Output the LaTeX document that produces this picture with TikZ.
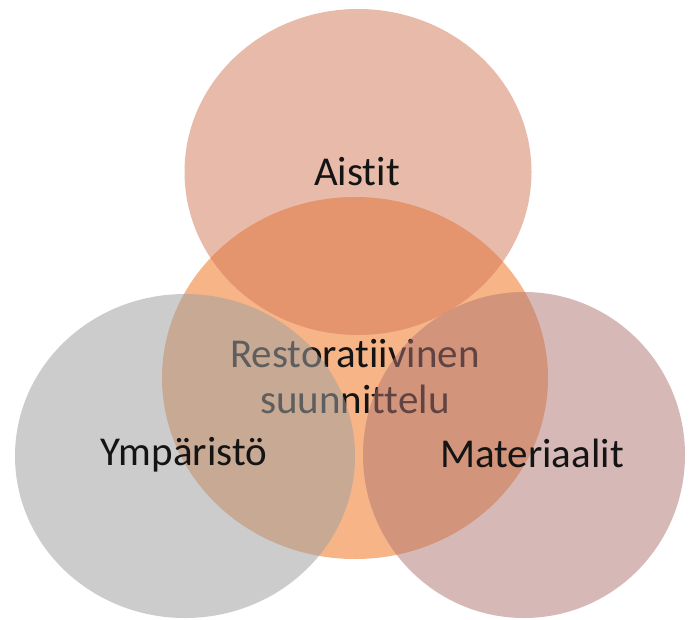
\documentclass[tikz,border=0pt]{standalone}
\usepackage{fontspec}
\setmainfont{Carlito}[Ligatures=NoCommon]
\usetikzlibrary{shapes.geometric}
\definecolor{corecol}{RGB}{246,180,135}
\definecolor{topcol}{RGB}{211,119,85}
\definecolor{leftcol}{RGB}{160,160,160}
\definecolor{rightcol}{RGB}{175,117,111}
\definecolor{labcol}{RGB}{20,20,20}
\tikzset{
  blob/.style={ellipse, draw=none, inner sep=0pt, outer sep=0pt},
  lab/.style={font=\fontsize{41}{46}\selectfont, text=labcol, inner sep=0pt, anchor=base}
}
\begin{document}
\begin{tikzpicture}[x=1pt,y=-1pt]
\useasboundingbox[fill=white] (0,0) rectangle (692,619);
% central circle
\node[blob, fill=corecol, minimum width=386pt, minimum height=362pt] (core) at (355,378) {};
% central text (under the translucent circles)
\node[lab] (l1) at (355,367) {Restoratiivinen};
\node[lab] (l2) at (355,413) {suunnittelu};
% translucent outer circles
\node[blob, fill=topcol, fill opacity=0.5, minimum width=347pt, minimum height=326pt] (top) at (358,172) {};
\node[blob, fill=leftcol, fill opacity=0.53, minimum width=340pt, minimum height=324pt] (left) at (185,456) {};
\node[blob, fill=rightcol, fill opacity=0.5, minimum width=322pt, minimum height=326pt] (right) at (524,455) {};
% labels
\node[lab] (ta) at (357,185) {Aistit};
\node[lab] (tl) at (184,465) {Ympäristö};
\node[lab] (tr) at (532,467) {Materiaalit};
\end{tikzpicture}
\end{document}
